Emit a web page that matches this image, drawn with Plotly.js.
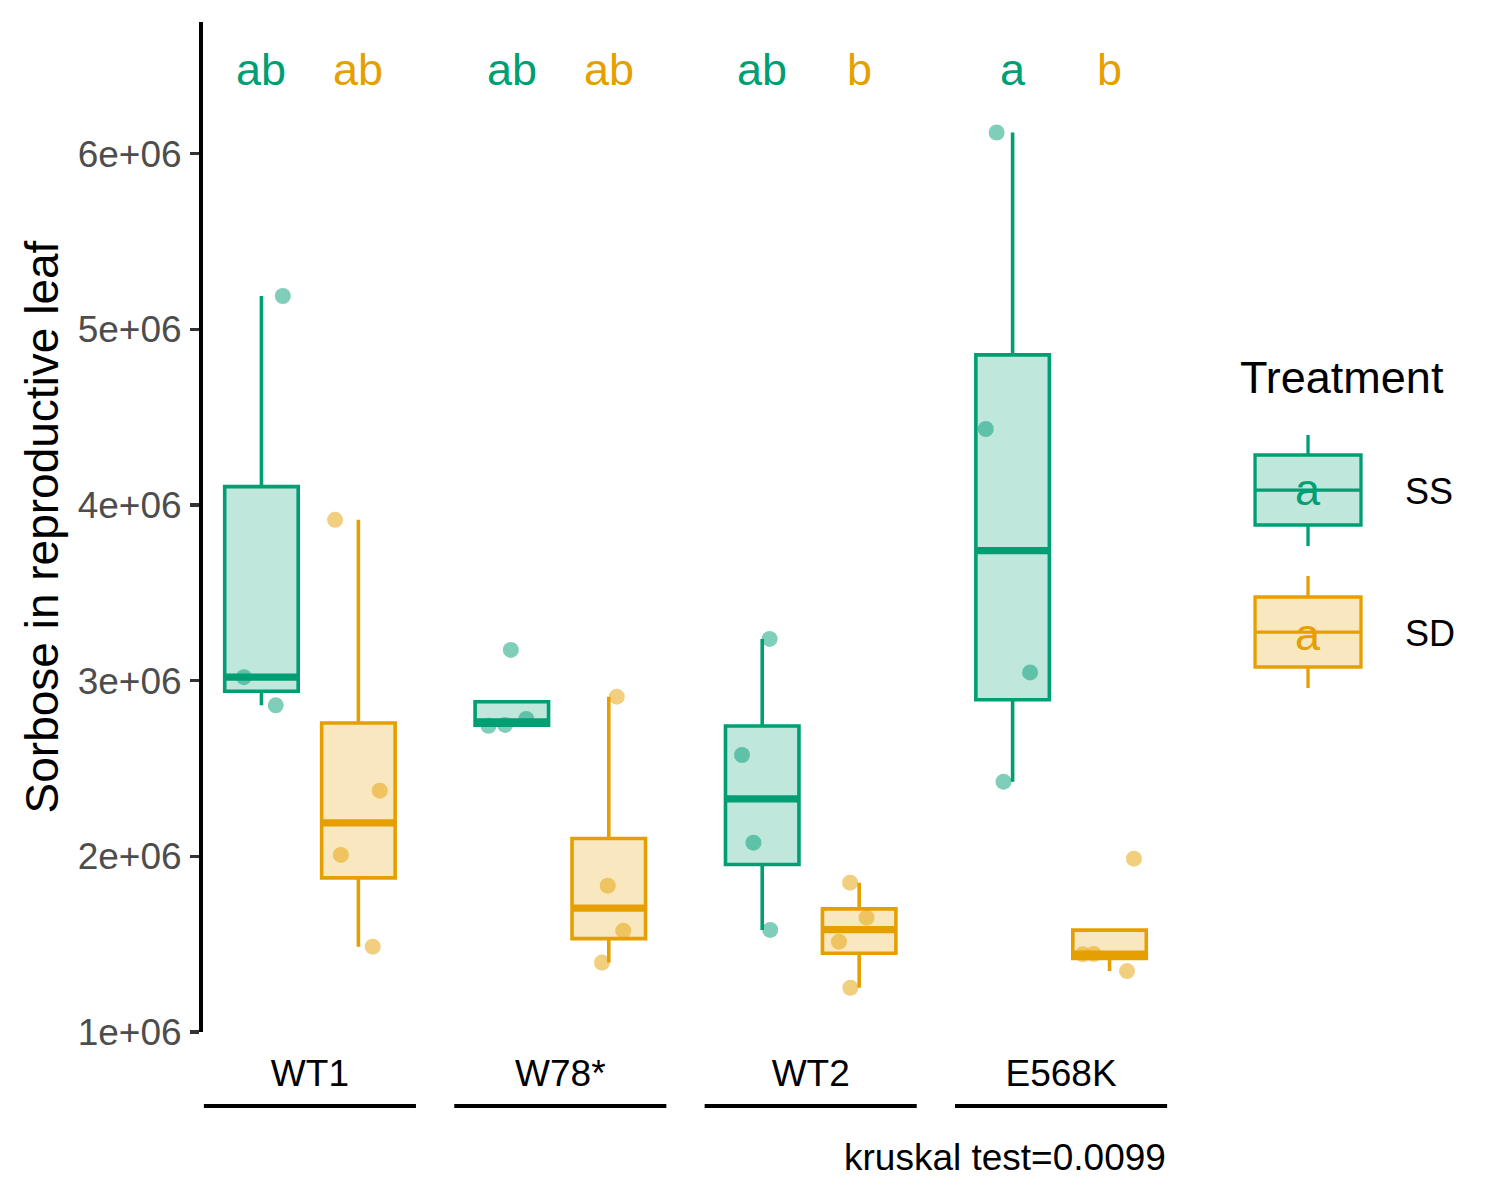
<!DOCTYPE html>
<html>
<head>
<meta charset="utf-8">
<script src="https://cdn.plot.ly/plotly-3.0.1.min.js"></script>
<style>
  html, body { margin: 0; padding: 0; background: #ffffff; }
  #chart { width: 1500px; height: 1200px; }
</style>
</head>
<body>
<div id="chart"></div>
<script>
// ---------------- DATA ----------------
const categories = ['WT1', 'W78*', 'WT2', 'E568K'];
const treatments = ['SS', 'SD'];

// Sorbose values per genotype (one small array per genotype)
const ssValues = [
  [5.19e6, 3.02e6, 2.86e6],                 // WT1
  [3.175e6, 2.782e6, 2.748e6, 2.743e6],     // W78*
  [3.238e6, 2.577e6, 2.078e6, 1.581e6],     // WT2
  [6.121e6, 4.433e6, 3.047e6, 2.425e6]      // E568K
];
const sdValues = [
  [3.916e6, 2.374e6, 2.008e6, 1.486e6],     // WT1
  [2.909e6, 1.833e6, 1.577e6, 1.395e6],     // W78*
  [1.850e6, 1.651e6, 1.514e6, 1.252e6],     // WT2
  [1.987e6, 1.444e6, 1.442e6, 1.347e6]      // E568K
];

// compact letter display
const ssLetters = ['ab', 'ab', 'ab', 'a'];
const sdLetters = ['ab', 'ab', 'b', 'b'];

const yTickVals = [1e6, 2e6, 3e6, 4e6, 5e6, 6e6];
const yTickText = ['1e+06', '2e+06', '3e+06', '4e+06', '5e+06', '6e+06'];

const yTitle = 'Sorbose in reproductive leaf';
const legendTitle = 'Treatment';
const caption = 'kruskal test=0.0099';

// ---------------- STYLE ----------------
const GREEN = '#009E73', ORANGE = '#E69F00';
const colors = [GREEN, ORANGE];
const fills = ['rgba(0,158,115,0.25)', 'rgba(230,159,0,0.25)'];
const ptColors = ['rgba(0,158,115,0.5)', 'rgba(230,159,0,0.5)'];
const FONT = 'Liberation Sans, Arial, Helvetica, sans-serif';
const BOXGAP = 0.2256, BOXGROUPGAP = 0.242;
const LETTER_Y = 6.48e6;
const LW = 3.6;

// ---------------- STATS (R type 7 quantiles, Tukey whiskers) ----------------
function quant(sorted, p) {
  const h = (sorted.length - 1) * p;
  const lo = Math.floor(h), hi = Math.ceil(h);
  return sorted[lo] + (h - lo) * (sorted[hi] - sorted[lo]);
}
function stats(vals) {
  const s = vals.slice().sort((a, b) => a - b);
  const q1 = quant(s, 0.25), med = quant(s, 0.5), q3 = quant(s, 0.75);
  const iqr = q3 - q1;
  const inside = s.filter(v => v >= q1 - 1.5 * iqr && v <= q3 + 1.5 * iqr);
  return { q1, med, q3, lf: Math.min(inside[0], q1), uf: Math.max(inside[inside.length - 1], q3) };
}

const groups = [ssValues, sdValues];
const traces = [];
const shapes = [];
const annotations = [];

const offset = 0.25 * (1 - BOXGAP);
const halfW = offset * (1 - BOXGROUPGAP);

groups.forEach((g, t) => {
  const st = g.map(stats);
  traces.push({
    type: 'box',
    name: treatments[t],
    x: categories,
    q1: st.map(d => d.q1),
    median: st.map(d => d.med),
    q3: st.map(d => d.q3),
    lowerfence: st.map(d => d.lf),
    upperfence: st.map(d => d.uf),
    y: g,
    boxpoints: 'all',
    jitter: 0.75,
    pointpos: 0,
    whiskerwidth: 0,
    fillcolor: fills[t],
    line: { color: colors[t], width: LW },
    marker: { color: ptColors[t], size: 16, line: { width: 0 } },
    showlegend: false,
    hoverinfo: 'y'
  });
  // thick median lines (ggplot fatten)
  st.forEach((d, i) => {
    const xc = i + (t === 0 ? -offset : offset);
    shapes.push({
      type: 'line', xref: 'x', yref: 'y',
      x0: xc - halfW, x1: xc + halfW, y0: d.med, y1: d.med,
      line: { color: colors[t], width: 7.2 }
    });
  });
  const letters = t === 0 ? ssLetters : sdLetters;
  letters.forEach((L, i) => {
    annotations.push({
      x: i + (t === 0 ? -offset : offset), y: LETTER_Y, xref: 'x', yref: 'y',
      text: L, showarrow: false, xanchor: 'center', yanchor: 'middle',
      font: { family: FONT, size: 45, color: colors[t] }
    });
  });
});

// underline segments beneath each genotype label
categories.forEach((c, i) => {
  shapes.push({
    type: 'line', xref: 'x', yref: 'paper',
    x0: i - 0.4235, x1: i + 0.4235, y0: -0.0733, y1: -0.0733,
    line: { color: '#000000', width: 4 }
  });
});

// caption
annotations.push({
  x: 1, y: -0.1238, xref: 'paper', yref: 'paper', xanchor: 'right', yanchor: 'middle',
  text: caption, showarrow: false, font: { family: FONT, size: 37, color: '#000000' }
});

// ---------------- CUSTOM LEGEND (ggplot-like box keys) ----------------
annotations.push({
  x: 1.0725, y: 0.6485, xref: 'paper', yref: 'paper', xanchor: 'left', yanchor: 'middle',
  text: legendTitle, showarrow: false, font: { family: FONT, size: 45, color: '#000000' }
});
const keyX0 = 1.0902, keyX1 = 1.2, keyXC = 1.1451;
const keyRows = [
  { wt: 0.5911, bt: 0.5713, md: 0.5366, bb: 0.502, wb: 0.4812, ly: 0.5356, ay: 0.5376 },
  { wt: 0.4515, bt: 0.4307, md: 0.396, bb: 0.3614, wb: 0.3406, ly: 0.395, ay: 0.3935 }
];
keyRows.forEach((k, t) => {
  shapes.push({ type: 'line', xref: 'paper', yref: 'paper', x0: keyXC, x1: keyXC, y0: k.wt, y1: k.bt, line: { color: colors[t], width: 3.3 } });
  shapes.push({ type: 'line', xref: 'paper', yref: 'paper', x0: keyXC, x1: keyXC, y0: k.bb, y1: k.wb, line: { color: colors[t], width: 3.3 } });
  shapes.push({ type: 'rect', xref: 'paper', yref: 'paper', x0: keyX0, x1: keyX1, y0: k.bb, y1: k.bt, fillcolor: fills[t], line: { color: colors[t], width: 3.3 } });
  shapes.push({ type: 'line', xref: 'paper', yref: 'paper', x0: keyX0, x1: keyX1, y0: k.md, y1: k.md, line: { color: colors[t], width: 3.3 } });
  annotations.push({
    x: keyXC, y: k.ay, xref: 'paper', yref: 'paper', xanchor: 'center', yanchor: 'middle',
    text: 'a', showarrow: false, font: { family: FONT, size: 45, color: colors[t] }
  });
  annotations.push({
    x: 1.2435, y: k.ly, xref: 'paper', yref: 'paper', xanchor: 'left', yanchor: 'middle',
    text: treatments[t], showarrow: false, font: { family: FONT, size: 36, color: '#000000' }
  });
});

const layout = {
  width: 1500, height: 1200,
  margin: { l: 203, r: 332, t: 22, b: 168 },
  paper_bgcolor: '#ffffff', plot_bgcolor: '#ffffff',
  boxmode: 'group', boxgap: BOXGAP, boxgroupgap: BOXGROUPGAP,
  showlegend: false,
  font: { family: FONT },
  xaxis: {
    type: 'category',
    range: [-0.427, 3.427],
    showline: false, showgrid: false, zeroline: false,
    ticks: '',
    tickfont: { family: FONT, size: 37, color: '#000000' },
    ticklabelstandoff: 16
  },
  yaxis: {
    range: [1.0e6, 6.75e6],
    showline: true, linecolor: '#000000', linewidth: 4,
    showgrid: false, zeroline: false,
    ticks: 'outside', ticklen: 9, tickwidth: 3.3, tickcolor: '#333333',
    tickvals: yTickVals, ticktext: yTickText,
    tickfont: { family: FONT, size: 37, color: '#4d4d4d' },
    ticklabelstandoff: 1,
    title: { text: yTitle, font: { family: FONT, size: 46, color: '#000000' }, standoff: 6 }
  },
  shapes: shapes,
  annotations: annotations
};

Plotly.newPlot('chart', traces, layout, { displayModeBar: false, staticPlot: true });
</script>
</body>
</html>
